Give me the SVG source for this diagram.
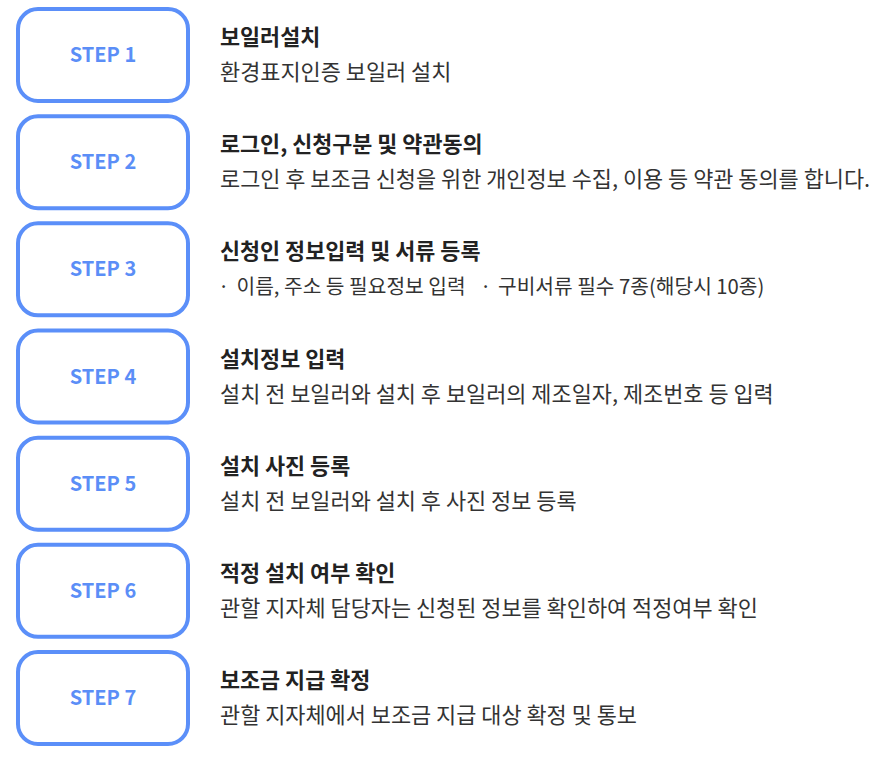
<svg xmlns="http://www.w3.org/2000/svg" width="892" height="760" viewBox="0 0 892 760">
<style>
.box{fill:#fff;stroke:#5b8ff9;stroke-width:4}
.step{font-family:"Noto Sans CJK KR","Noto Sans",sans-serif;font-size:20px;font-weight:700;fill:#5b8ef7;text-anchor:middle}
.title{font-family:"Noto Sans CJK KR",sans-serif;font-size:21.8px;font-weight:700;fill:#222}
.desc{font-family:"Noto Sans CJK KR",sans-serif;font-size:21.9px;fill:#333}
.desc.sm{font-size:20.3px}
</style>
<rect width="892" height="760" fill="#fff"/>
<g id="step1" transform="translate(0,0)">
<rect class="box" x="18" y="9" width="170" height="92" rx="20"/>
<text class="step" x="103" y="62">STEP 1</text>
<text class="title" x="220" y="45">보일러설치</text>
<text class="desc" x="220" y="80">환경표지인증 보일러 설치</text>
</g>
<g id="step2" transform="translate(0,107.17)">
<rect class="box" x="18" y="9" width="170" height="92" rx="20"/>
<text class="step" x="103" y="62">STEP 2</text>
<text class="title" x="220" y="45">로그인, 신청구분 및 약관동의</text>
<text class="desc" x="220" y="80">로그인 후 보조금 신청을 위한 개인정보 수집, 이용 등 약관 동의를 합니다.</text>
</g>
<g id="step3" transform="translate(0,214.33)">
<rect class="box" x="18" y="9" width="170" height="92" rx="20"/>
<text class="step" x="103" y="62">STEP 3</text>
<text class="title" x="220" y="45">신청인 정보입력 및 서류 등록</text>
<text class="desc sm" y="79.5"><tspan x="218">·</tspan><tspan x="236.5">이름, 주소 등 필요정보 입력</tspan><tspan x="480">·</tspan><tspan x="498">구비서류 필수 7종(해당시 10종)</tspan></text>
</g>
<g id="step4" transform="translate(0,321.5)">
<rect class="box" x="18" y="9" width="170" height="92" rx="20"/>
<text class="step" x="103" y="62">STEP 4</text>
<text class="title" x="220" y="45">설치정보 입력</text>
<text class="desc" x="220" y="80">설치 전 보일러와 설치 후 보일러의 제조일자, 제조번호 등 입력</text>
</g>
<g id="step5" transform="translate(0,428.67)">
<rect class="box" x="18" y="9" width="170" height="92" rx="20"/>
<text class="step" x="103" y="62">STEP 5</text>
<text class="title" x="220" y="45">설치 사진 등록</text>
<text class="desc" x="220" y="80">설치 전 보일러와 설치 후 사진 정보 등록</text>
</g>
<g id="step6" transform="translate(0,535.83)">
<rect class="box" x="18" y="9" width="170" height="92" rx="20"/>
<text class="step" x="103" y="62">STEP 6</text>
<text class="title" x="220" y="45">적정 설치 여부 확인</text>
<text class="desc" x="220" y="80">관할 지자체 담당자는 신청된 정보를 확인하여 적정여부 확인</text>
</g>
<g id="step7" transform="translate(0,643)">
<rect class="box" x="18" y="9" width="170" height="92" rx="20"/>
<text class="step" x="103" y="62">STEP 7</text>
<text class="title" x="220" y="45">보조금 지급 확정</text>
<text class="desc" x="220" y="80">관할 지자체에서 보조금 지급 대상 확정 및 통보</text>
</g>
<g id="connectors"></g>
</svg>
